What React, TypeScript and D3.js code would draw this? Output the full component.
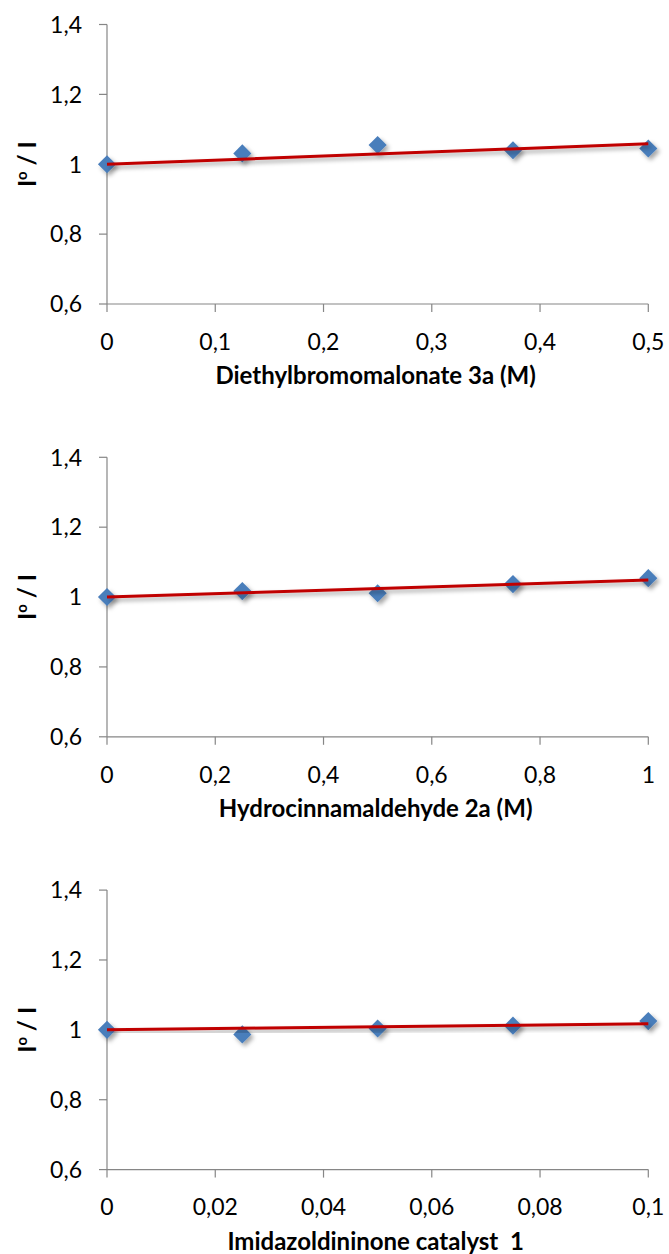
import React from 'react';
import * as d3 from 'd3';

// concentrations (M) and I0/I ratios for the three quenchers
const diethylX = [0, 0.125, 0.25, 0.375, 0.5];
const diethylY = [1.0, 1.031, 1.055, 1.04, 1.045];

const hydroX = [0, 0.25, 0.5, 0.75, 1];
const hydroY = [1.0, 1.017, 1.011, 1.037, 1.054];

const catX = [0, 0.025, 0.05, 0.075, 0.1];
const catY = [1.0, 0.987, 1.004, 1.012, 1.025];

const xMaxes = [0.5, 1, 0.1];
const titles = ['Diethylbromomalonate 3a (M)', 'Hydrocinnamaldehyde 2a (M)', 'Imidazoldininone catalyst  1'];
const yDomain = [0.6, 1.4];

const WIDTH = 669;
const HEIGHT = 1254;
const LEFT = 107;
const RIGHT = 648.3;
const PANEL_TOP = 24.5;
const PANEL_H = 279.5;
const PANEL_STEP = 432.8;
const FONT = 'Lato, "Open Sans", sans-serif';
const AXIS = '#868686';

const fmt = d3.formatLocale({ decimal: ',', thousands: '.', grouping: [3], currency: ['', ''] }).format('~g');

// Excel-style linear trendline with the intercept fixed at 1
const slopeThroughOne = (xs, ys) => {
  const num = d3.sum(xs, (x, i) => x * (ys[i] - 1));
  const den = d3.sum(xs, (x) => x * x);
  return num / den;
};

const Panel = ({ xs, ys, xMax, title, top }) => {
  const x = d3.scaleLinear().domain([0, xMax]).range([LEFT, RIGHT]);
  const y = d3.scaleLinear().domain(yDomain).range([top + PANEL_H, top]);
  const xTicks = x.ticks(5);
  const yTicks = y.ticks(4);
  const bottom = top + PANEL_H;
  const slope = slopeThroughOne(xs, ys);
  const trend = d3.line()([
    [x(0), y(1)],
    [x(xMax), y(1 + slope * xMax)],
  ]);
  const diamond = d3.symbol().type(d3.symbolDiamond2).size(210)();

  return (
    <g>
      {/* y axis */}
      <line x1={LEFT} x2={LEFT} y1={top} y2={bottom} stroke={AXIS} strokeWidth={1.2} />
      {yTicks.map((t) => (
        <g key={'y' + t}>
          <line x1={LEFT - 8} x2={LEFT} y1={y(t)} y2={y(t)} stroke={AXIS} strokeWidth={1.2} />
          <text x={82} y={y(t)} dy="0.36em" textAnchor="end" fontSize={23} fontFamily={FONT} fill="#000">
            {fmt(t)}
          </text>
        </g>
      ))}
      {/* x axis */}
      <line x1={LEFT} x2={RIGHT} y1={bottom} y2={bottom} stroke={AXIS} strokeWidth={1.2} />
      {xTicks.map((t) => (
        <g key={'x' + t}>
          <line x1={x(t)} x2={x(t)} y1={bottom} y2={bottom + 8} stroke={AXIS} strokeWidth={1.2} />
          <text x={x(t)} y={bottom + 37.5} dy="0.36em" textAnchor="middle" fontSize={23} fontFamily={FONT} fill="#000">
            {fmt(t)}
          </text>
        </g>
      ))}
      <text
        x={(LEFT + RIGHT) / 2 - 2}
        y={bottom + 71.5}
        dy="0.36em"
        textAnchor="middle"
        fontSize={24}
        fontWeight="bold"
        fontFamily={FONT}
        fill="#000"
        style={{ whiteSpace: 'pre' }}
      >
        {title}
      </text>
      <text transform={`translate(27.5,${(top + bottom) / 2}) rotate(-90)`} dy="0.36em" textAnchor="middle" fontSize={24} fontWeight="bold" fontFamily={FONT} fill="#000">
        I<tspan fontSize={15} dy="-0.6em">o</tspan>
        <tspan dy="0.37em"> / I</tspan>
      </text>
      {/* markers */}
      <g filter="url(#shadow)">
        {xs.map((v, i) => (
          <path key={i} d={diamond} transform={`translate(${x(v)},${y(ys[i])})`} fill="#4a7ebb" />
        ))}
      </g>
      {/* trendline */}
      <path d={trend} stroke="#c00000" strokeWidth={3} fill="none" filter="url(#shadow)" />
    </g>
  );
};

export default function App() {
  const series = [
    [diethylX, diethylY],
    [hydroX, hydroY],
    [catX, catY],
  ];
  return (
    <svg width={WIDTH} height={HEIGHT} style={{ position: 'absolute', left: 0, top: 0, background: '#fff' }}>
      <defs>
        <filter id="shadow" x="-50%" y="-50%" width="200%" height="200%">
          <feDropShadow dx={2.5} dy={3} stdDeviation={2} floodColor="#000" floodOpacity={0.35} />
        </filter>
      </defs>
      <rect width={WIDTH} height={HEIGHT} fill="#fff" />
      {series.map(([xs, ys], i) => (
        <Panel key={i} xs={xs} ys={ys} xMax={xMaxes[i]} title={titles[i]} top={PANEL_TOP + i * PANEL_STEP} />
      ))}
    </svg>
  );
}
